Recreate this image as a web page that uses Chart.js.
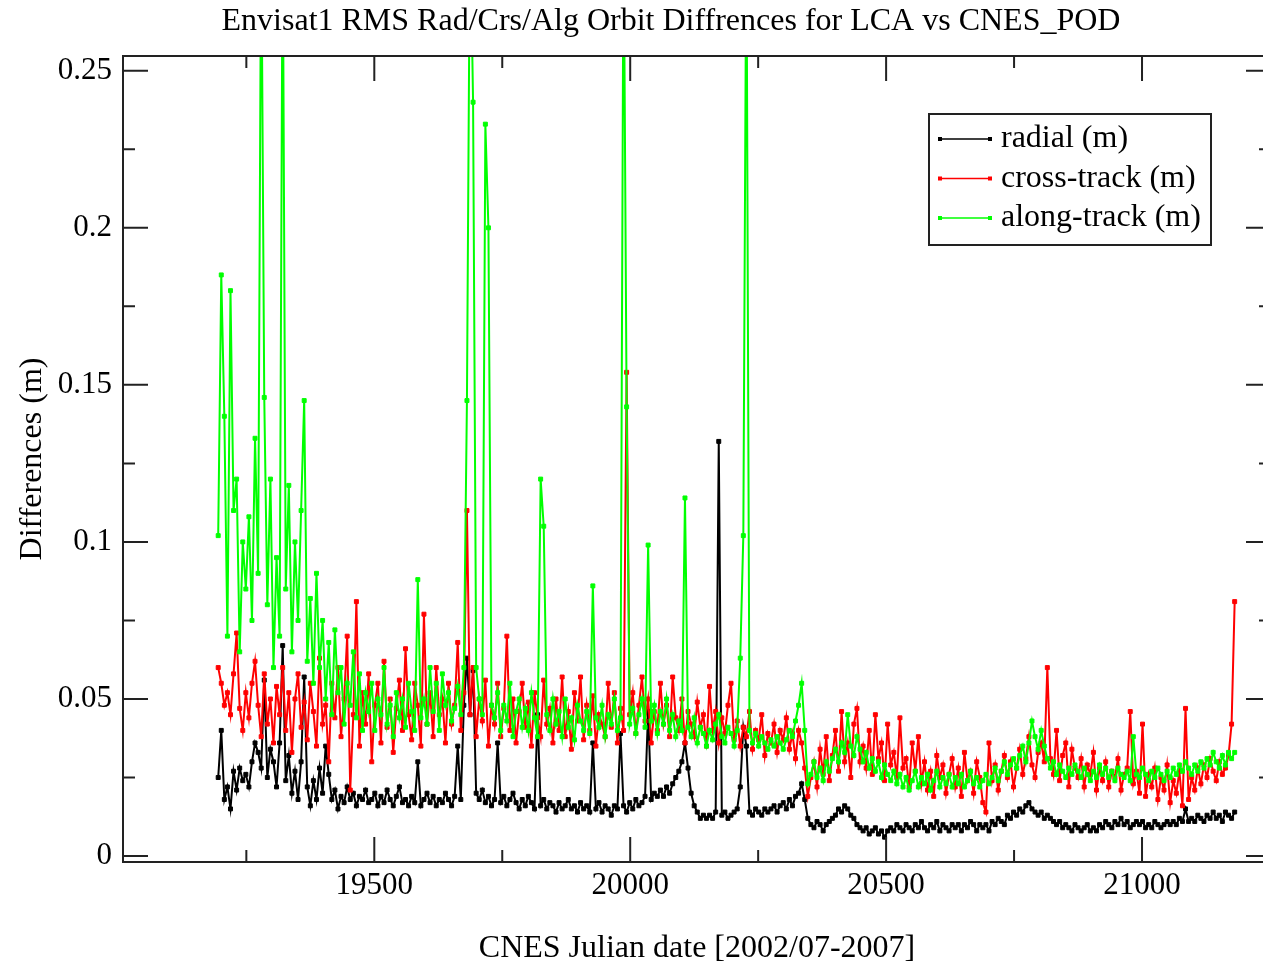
<!DOCTYPE html>
<html>
<head>
<meta charset="utf-8">
<script src="https://cdn.jsdelivr.net/npm/chart.js@4"></script>
<style>
  html, body { margin: 0; padding: 0; background: #fff; overflow: hidden; }
  #wrap { width: 1276px; height: 968px; }
</style>
</head>
<body>
<div id="wrap"><canvas id="chart" width="1276" height="968"></canvas></div>
<script>
var days = [
  19195,19201,19207,19213,19219,19225,19231,19237,19243,19249,
  19255,19261,19267,19273,19279,19285,19291,19297,19303,19309,
  19315,19321,19327,19333,19339,19345,19351,19357,19363,19369,
  19375,19381,19387,19393,19399,19405,19411,19417,19423,19429,
  19435,19441,19447,19453,19459,19465,19471,19477,19483,19489,
  19495,19501,19507,19513,19519,19525,19531,19537,19543,19549,
  19555,19561,19567,19573,19579,19585,19591,19597,19603,19609,
  19615,19621,19627,19633,19639,19645,19651,19657,19663,19669,
  19675,19681,19687,19693,19699,19705,19711,19717,19723,19729,
  19735,19741,19747,19753,19759,19765,19771,19777,19783,19789,
  19795,19801,19807,19813,19819,19825,19831,19837,19843,19849,
  19855,19861,19867,19873,19879,19885,19891,19897,19903,19909,
  19915,19921,19927,19933,19939,19945,19951,19957,19963,19969,
  19975,19981,19987,19993,19999,20005,20011,20017,20023,20029,
  20035,20041,20047,20053,20059,20065,20071,20077,20083,20089,
  20095,20101,20107,20113,20119,20125,20131,20137,20143,20149,
  20155,20161,20167,20173,20179,20185,20191,20197,20203,20209,
  20215,20221,20227,20233,20239,20245,20251,20257,20263,20269,
  20275,20281,20287,20293,20299,20305,20311,20317,20323,20329,
  20335,20341,20347,20353,20359,20365,20371,20377,20383,20389,
  20395,20401,20407,20413,20419,20425,20431,20437,20443,20449,
  20455,20461,20467,20473,20479,20485,20491,20497,20503,20509,
  20515,20521,20527,20533,20539,20545,20551,20557,20563,20569,
  20575,20581,20587,20593,20599,20605,20611,20617,20623,20629,
  20635,20641,20647,20653,20659,20665,20671,20677,20683,20689,
  20695,20701,20707,20713,20719,20725,20731,20737,20743,20749,
  20755,20761,20767,20773,20779,20785,20791,20797,20803,20809,
  20815,20821,20827,20833,20839,20845,20851,20857,20863,20869,
  20875,20881,20887,20893,20899,20905,20911,20917,20923,20929,
  20935,20941,20947,20953,20959,20965,20971,20977,20983,20989,
  20995,21001,21007,21013,21019,21025,21031,21037,21043,21049,
  21055,21061,21067,21073,21079,21085,21091,21097,21103,21109,
  21115,21121,21127,21133,21139,21145,21151,21157,21163,21169,
  21175,21181
];

var radial = [
  0.025,0.040,0.018,0.022,0.015,0.027,0.021,0.028,0.024,0.026,
  0.022,0.030,0.036,0.033,0.028,0.056,0.025,0.034,0.030,0.022,
  0.036,0.067,0.024,0.032,0.020,0.027,0.018,0.030,0.057,0.022,
  0.016,0.024,0.018,0.028,0.020,0.035,0.026,0.018,0.021,0.015,
  0.019,0.017,0.022,0.018,0.020,0.016,0.019,0.018,0.021,0.017,
  0.018,0.020,0.016,0.019,0.017,0.021,0.018,0.016,0.019,0.022,
  0.017,0.018,0.016,0.019,0.017,0.030,0.016,0.018,0.020,0.017,
  0.019,0.016,0.018,0.017,0.020,0.018,0.016,0.019,0.035,0.018,
  0.048,0.063,0.045,0.059,0.020,0.018,0.021,0.017,0.019,0.016,
  0.018,0.036,0.017,0.019,0.016,0.018,0.020,0.017,0.015,0.018,
  0.016,0.019,0.017,0.015,0.045,0.016,0.018,0.015,0.017,0.016,
  0.014,0.017,0.015,0.016,0.018,0.015,0.016,0.014,0.017,0.015,
  0.016,0.014,0.036,0.015,0.017,0.014,0.016,0.015,0.013,0.016,
  0.015,0.039,0.016,0.014,0.017,0.015,0.018,0.016,0.017,0.019,
  0.046,0.018,0.020,0.019,0.021,0.019,0.022,0.020,0.023,0.025,
  0.027,0.030,0.036,0.028,0.020,0.016,0.014,0.012,0.013,0.012,
  0.013,0.012,0.014,0.132,0.013,0.014,0.012,0.013,0.014,0.015,
  0.022,0.041,0.035,0.014,0.013,0.015,0.014,0.013,0.015,0.014,
  0.015,0.016,0.014,0.016,0.017,0.015,0.018,0.016,0.019,0.020,
  0.023,0.018,0.012,0.010,0.009,0.011,0.010,0.008,0.010,0.011,
  0.012,0.013,0.015,0.014,0.016,0.015,0.013,0.012,0.010,0.009,
  0.008,0.009,0.007,0.008,0.009,0.007,0.008,0.006,0.008,0.009,
  0.008,0.010,0.009,0.008,0.010,0.009,0.008,0.010,0.009,0.011,
  0.009,0.008,0.010,0.009,0.011,0.008,0.010,0.009,0.008,0.010,
  0.009,0.010,0.008,0.010,0.009,0.011,0.010,0.008,0.010,0.009,
  0.010,0.008,0.011,0.010,0.012,0.011,0.010,0.013,0.012,0.014,
  0.013,0.015,0.014,0.016,0.017,0.015,0.014,0.013,0.014,0.012,
  0.013,0.012,0.011,0.010,0.011,0.009,0.010,0.009,0.008,0.010,
  0.009,0.008,0.009,0.010,0.008,0.009,0.008,0.010,0.009,0.011,
  0.010,0.009,0.011,0.010,0.012,0.010,0.011,0.009,0.010,0.011,
  0.010,0.011,0.009,0.010,0.009,0.011,0.010,0.009,0.010,0.011,
  0.010,0.011,0.010,0.012,0.011,0.015,0.011,0.012,0.011,0.013,
  0.012,0.011,0.013,0.012,0.014,0.012,0.013,0.011,0.014,0.013,
  0.012,0.014
];

var crossTrack = [
  0.060,0.055,0.048,0.052,0.045,0.058,0.071,0.047,0.040,0.052,
  0.044,0.055,0.062,0.048,0.038,0.058,0.042,0.050,0.036,0.054,
  0.045,0.060,0.040,0.052,0.033,0.050,0.058,0.041,0.049,0.037,
  0.055,0.046,0.035,0.063,0.042,0.048,0.030,0.055,0.044,0.060,
  0.038,0.050,0.070,0.021,0.045,0.081,0.035,0.052,0.042,0.058,
  0.030,0.048,0.055,0.036,0.062,0.041,0.050,0.033,0.047,0.056,
  0.040,0.066,0.045,0.037,0.055,0.048,0.035,0.077,0.042,0.052,
  0.038,0.060,0.045,0.050,0.036,0.055,0.042,0.048,0.068,0.040,
  0.052,0.110,0.045,0.060,0.038,0.050,0.043,0.056,0.035,0.048,
  0.042,0.055,0.038,0.047,0.070,0.040,0.050,0.036,0.046,0.055,
  0.041,0.049,0.035,0.052,0.044,0.038,0.056,0.042,0.047,0.036,
  0.050,0.040,0.057,0.038,0.046,0.034,0.052,0.043,0.057,0.037,
  0.048,0.040,0.051,0.035,0.045,0.042,0.038,0.055,0.041,0.052,
  0.036,0.047,0.040,0.154,0.045,0.052,0.039,0.048,0.057,0.043,
  0.050,0.036,0.046,0.040,0.055,0.042,0.048,0.038,0.057,0.044,
  0.040,0.050,0.036,0.046,0.042,0.038,0.049,0.041,0.045,0.035,
  0.054,0.040,0.046,0.036,0.044,0.039,0.048,0.055,0.037,0.043,
  0.035,0.041,0.038,0.046,0.034,0.040,0.037,0.045,0.032,0.039,
  0.036,0.042,0.033,0.040,0.037,0.044,0.034,0.039,0.031,0.040,
  0.036,0.028,0.019,0.025,0.030,0.022,0.034,0.026,0.038,0.024,
  0.032,0.040,0.027,0.046,0.030,0.036,0.025,0.042,0.047,0.030,
  0.035,0.028,0.040,0.026,0.045,0.031,0.036,0.024,0.042,0.029,
  0.033,0.025,0.044,0.028,0.031,0.022,0.036,0.027,0.038,0.023,
  0.030,0.021,0.027,0.019,0.032,0.025,0.029,0.020,0.026,0.031,
  0.022,0.028,0.019,0.033,0.024,0.027,0.020,0.030,0.025,0.017,
  0.014,0.036,0.024,0.029,0.021,0.027,0.032,0.025,0.030,0.022,
  0.028,0.034,0.026,0.031,0.038,0.029,0.025,0.033,0.036,0.030,
  0.060,0.031,0.026,0.040,0.024,0.032,0.036,0.022,0.034,0.028,
  0.025,0.031,0.022,0.029,0.026,0.033,0.021,0.028,0.024,0.030,
  0.022,0.027,0.025,0.031,0.021,0.026,0.028,0.046,0.023,0.027,
  0.020,0.042,0.019,0.026,0.022,0.028,0.018,0.025,0.021,0.029,
  0.017,0.024,0.020,0.027,0.016,0.047,0.018,0.025,0.021,0.028,
  0.023,0.029,0.025,0.031,0.027,0.024,0.030,0.026,0.028,0.032,
  0.042,0.081
];

var alongTrack = [
  0.102,0.185,0.140,0.070,0.180,0.110,0.120,0.065,0.100,0.085,
  0.108,0.075,0.133,0.090,0.300,0.146,0.080,0.120,0.060,0.095,
  0.070,0.300,0.085,0.118,0.065,0.100,0.075,0.110,0.145,0.062,
  0.082,0.055,0.090,0.060,0.075,0.050,0.068,0.045,0.072,0.052,
  0.060,0.042,0.055,0.048,0.065,0.044,0.058,0.040,0.052,0.046,
  0.055,0.040,0.050,0.045,0.060,0.042,0.048,0.038,0.052,0.044,
  0.050,0.041,0.055,0.046,0.040,0.088,0.044,0.050,0.042,0.060,
  0.046,0.055,0.040,0.058,0.048,0.052,0.043,0.047,0.054,0.045,
  0.060,0.145,0.300,0.240,0.060,0.050,0.045,0.233,0.200,0.048,
  0.044,0.052,0.040,0.048,0.043,0.055,0.038,0.046,0.050,0.041,
  0.047,0.040,0.052,0.044,0.038,0.120,0.105,0.045,0.040,0.050,
  0.042,0.046,0.038,0.050,0.041,0.044,0.037,0.048,0.043,0.040,
  0.046,0.039,0.086,0.044,0.041,0.048,0.038,0.045,0.042,0.050,
  0.040,0.044,0.300,0.143,0.042,0.047,0.039,0.045,0.050,0.041,
  0.099,0.043,0.048,0.039,0.046,0.042,0.050,0.040,0.045,0.038,
  0.043,0.040,0.114,0.041,0.038,0.044,0.036,0.041,0.039,0.035,
  0.040,0.037,0.042,0.045,0.038,0.036,0.041,0.039,0.035,0.040,
  0.063,0.102,0.300,0.040,0.036,0.039,0.035,0.038,0.036,0.034,
  0.037,0.035,0.038,0.036,0.034,0.037,0.040,0.038,0.043,0.048,
  0.055,0.040,0.023,0.026,0.030,0.025,0.028,0.024,0.030,0.027,
  0.031,0.034,0.030,0.036,0.033,0.045,0.035,0.032,0.038,0.034,
  0.030,0.033,0.028,0.031,0.027,0.030,0.025,0.029,0.026,0.024,
  0.027,0.023,0.026,0.022,0.025,0.021,0.024,0.027,0.022,0.025,
  0.023,0.026,0.021,0.024,0.027,0.022,0.025,0.023,0.026,0.022,
  0.025,0.023,0.026,0.022,0.024,0.027,0.023,0.025,0.022,0.024,
  0.026,0.023,0.025,0.028,0.024,0.027,0.030,0.026,0.029,0.031,
  0.028,0.032,0.035,0.030,0.036,0.043,0.038,0.034,0.040,0.035,
  0.031,0.028,0.030,0.026,0.029,0.027,0.025,0.028,0.026,0.029,
  0.027,0.025,0.028,0.026,0.024,0.027,0.025,0.029,0.026,0.028,
  0.025,0.027,0.024,0.028,0.026,0.025,0.027,0.024,0.038,0.026,
  0.025,0.028,0.026,0.024,0.027,0.025,0.028,0.026,0.024,0.027,
  0.025,0.028,0.026,0.029,0.027,0.030,0.028,0.026,0.029,0.027,
  0.030,0.028,0.031,0.029,0.033,0.030,0.028,0.032,0.029,0.033,
  0.031,0.033
];

var xTicks = [19500, 20000, 20500, 21000];
var xMinorTicks = [19250, 19750, 20250, 20750, 21250];
var yTicks = [0, 0.05, 0.1, 0.15, 0.2, 0.25];
var yMinorTicks = [0.025, 0.075, 0.125, 0.175, 0.225];

var seriesNames = ['radial (m)', 'cross-track (m)', 'along-track (m)'];
var seriesColors = ['#000000', '#ff0000', '#00ff00'];

(function () {
  var serif = "'Liberation Serif', 'Times New Roman', serif";

  function toPoints(vals) {
    return days.map(function (d, i) { return { x: d, y: vals[i] }; });
  }

  function makeSet(idx, vals, order) {
    return {
      label: seriesNames[idx],
      data: toPoints(vals),
      borderColor: seriesColors[idx],
      backgroundColor: seriesColors[idx],
      borderWidth: 2,
      pointStyle: 'rect',
      pointRadius: 2.8,
      pointBorderWidth: 1,
      tension: 0,
      order: order
    };
  }

  // frame, inward tick marks on all four sides
  var framePlugin = {
    id: 'frame',
    afterDatasetsDraw: function (chart) {
      var ctx = chart.ctx;
      var a = chart.chartArea;
      var xs = chart.scales.x;
      var ys = chart.scales.y;
      ctx.save();
      ctx.strokeStyle = '#222';
      ctx.lineWidth = 2;
      ctx.strokeRect(a.left, a.top, a.right - a.left, a.bottom - a.top);
      ctx.beginPath();
      function xTick(v, len) {
        var p = xs.getPixelForValue(v);
        if (p < a.left || p > a.right) return;
        ctx.moveTo(p, a.bottom); ctx.lineTo(p, a.bottom - len);
        ctx.moveTo(p, a.top); ctx.lineTo(p, a.top + len);
      }
      function yTick(v, len) {
        var p = ys.getPixelForValue(v);
        ctx.moveTo(a.left, p); ctx.lineTo(a.left + len, p);
        ctx.moveTo(a.right, p); ctx.lineTo(a.right - len, p);
      }
      xTicks.forEach(function (v) { xTick(v, 25); });
      xMinorTicks.forEach(function (v) { xTick(v, 12); });
      yTicks.forEach(function (v) { yTick(v, 25); });
      yMinorTicks.forEach(function (v) { yTick(v, 12); });
      ctx.stroke();
      ctx.restore();
    }
  };

  var titleLegendPlugin = {
    id: 'titleLegend',
    afterDraw: function (chart) {
      var ctx = chart.ctx;
      ctx.save();
      ctx.fillStyle = '#000';
      ctx.font = '32px ' + serif;
      ctx.textAlign = 'center';
      ctx.textBaseline = 'middle';
      ctx.fillText('Envisat1 RMS Rad/Crs/Alg Orbit Diffrences for LCA vs CNES_POD', 671, 22);

      ctx.fillStyle = '#fff';
      ctx.fillRect(929, 114, 282, 131);
      ctx.strokeStyle = '#222';
      ctx.lineWidth = 2;
      ctx.strokeRect(929, 114, 282, 131);

      var rows = [139, 178.5, 218];
      ctx.textAlign = 'left';
      rows.forEach(function (y, i) {
        ctx.strokeStyle = seriesColors[i];
        ctx.fillStyle = seriesColors[i];
        ctx.lineWidth = 1.5;
        ctx.beginPath();
        ctx.moveTo(940, y);
        ctx.lineTo(990, y);
        ctx.stroke();
        ctx.fillRect(938, y - 2, 4, 4);
        ctx.fillRect(988, y - 2, 4, 4);
        ctx.fillStyle = '#000';
        ctx.fillText(seriesNames[i], 1001, y);
      });
      ctx.restore();
    }
  };

  new Chart(document.getElementById('chart'), {
    type: 'line',
    data: {
      datasets: [
        makeSet(0, radial, 3),
        makeSet(1, crossTrack, 2),
        makeSet(2, alongTrack, 1)
      ]
    },
    options: {
      responsive: false,
      devicePixelRatio: 1,
      animation: false,
      events: [],
      layout: { padding: { left: 0, right: 3, top: 56, bottom: 0 } },
      scales: {
        x: {
          type: 'linear',
          min: 19009,
          max: 21252,
          afterFit: function (s) { s.height = 106; },
          afterBuildTicks: function (s) {
            s.ticks = xTicks.map(function (v) { return { value: v }; });
          },
          grid: { display: false, drawTicks: false },
          border: { display: false },
          ticks: {
            color: '#000',
            padding: 5,
            maxRotation: 0,
            font: { family: serif, size: 31 },
            callback: function (v) { return String(v); }
          },
          title: {
            display: true,
            text: 'CNES Julian date [2002/07-2007]',
            color: '#000',
            font: { family: serif, size: 32 },
            padding: { top: 0, bottom: 0 }
          }
        },
        y: {
          type: 'linear',
          min: -0.0019,
          max: 0.2547,
          afterFit: function (s) { s.width = 123; },
          afterBuildTicks: function (s) {
            s.ticks = yTicks.map(function (v) { return { value: v }; });
          },
          grid: { display: false, drawTicks: false },
          border: { display: false },
          ticks: {
            color: '#000',
            padding: 11,
            font: { family: serif, size: 31 },
            callback: function (v) { return String(+v.toFixed(2)); }
          },
          title: {
            display: true,
            text: 'Differences (m)',
            color: '#000',
            font: { family: serif, size: 32 },
            padding: { top: 13, bottom: 0 }
          }
        }
      },
      plugins: {
        legend: { display: false },
        tooltip: { enabled: false },
        title: { display: false }
      }
    },
    plugins: [framePlugin, titleLegendPlugin]
  });
})();
</script>
</body>
</html>
